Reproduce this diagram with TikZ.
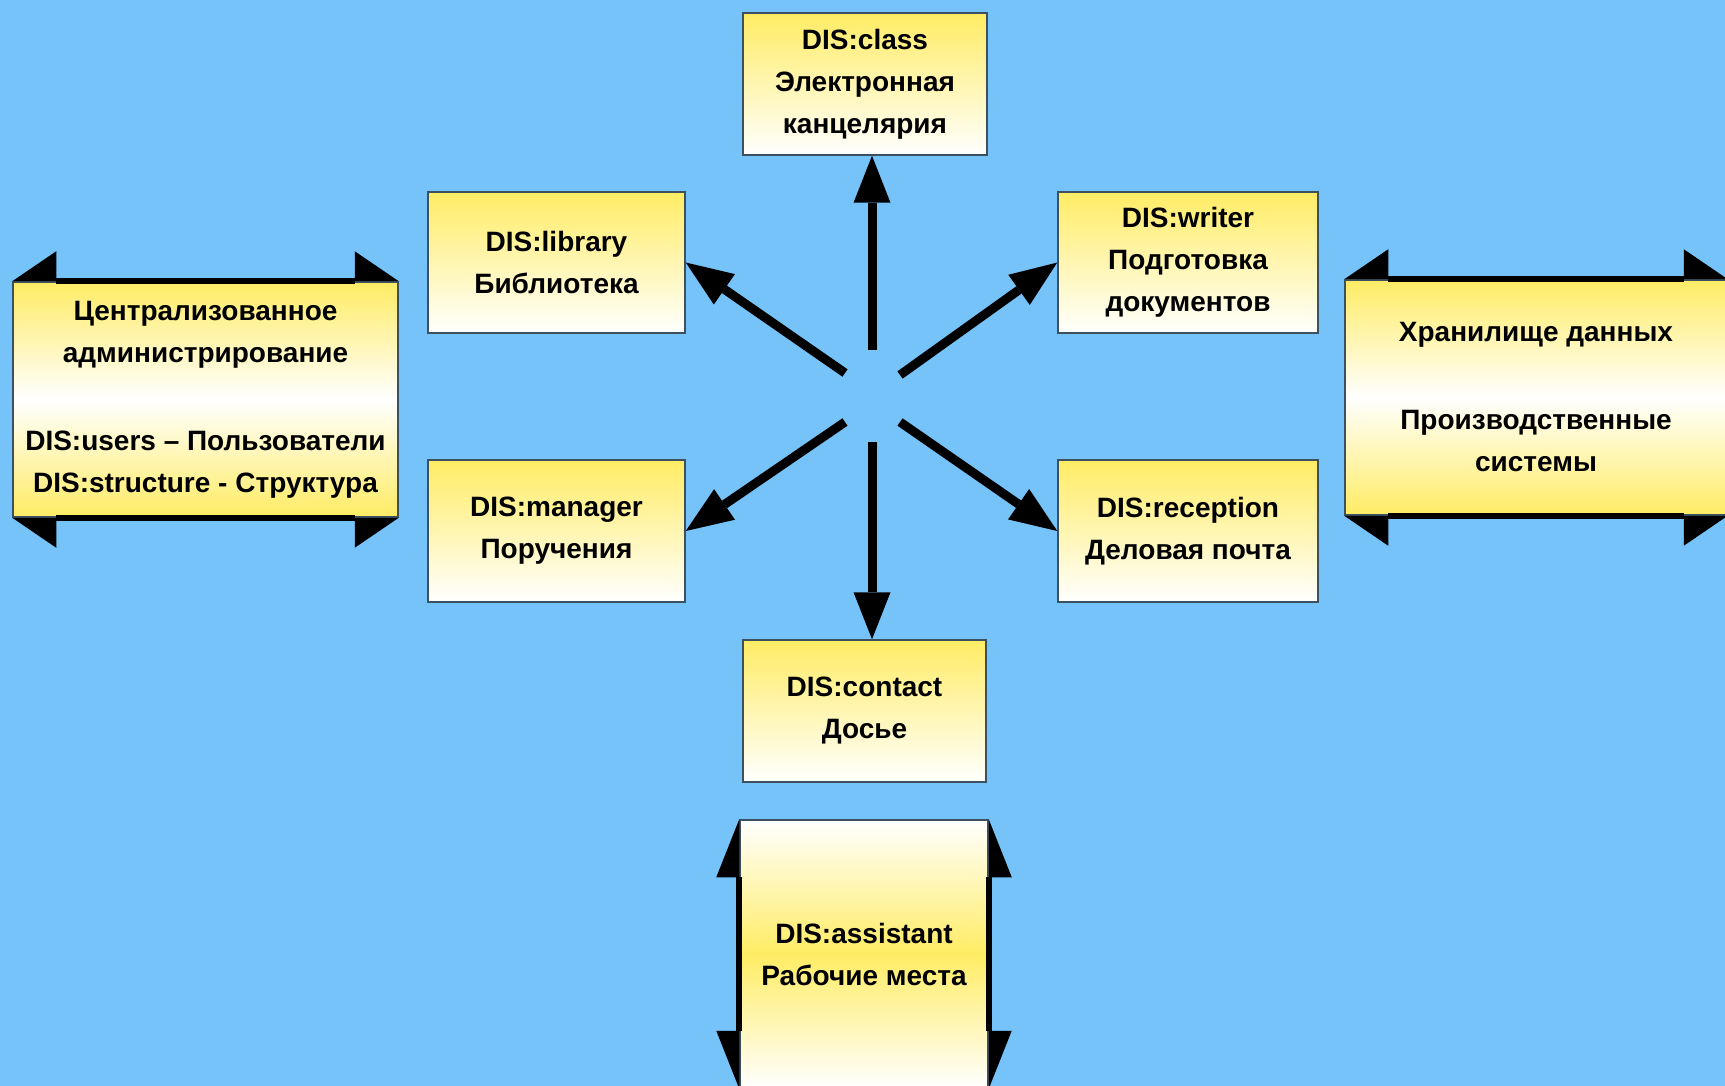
\documentclass[tikz,border=0pt]{standalone}
\usepackage{fontspec}
\setmainfont{Liberation Sans}
\usetikzlibrary{arrows.meta}
\definecolor{bg}{RGB}{118,195,250}
\definecolor{yel}{RGB}{255,236,100}
\definecolor{edgec}{RGB}{60,80,95}
\begin{document}
\begin{tikzpicture}[x=1pt,y=-1pt,
  txt/.style={font=\fontsize{28}{42}\selectfont\bfseries, align=center, text=black},
  smallbox/.style={txt, rectangle, draw=edgec, line width=1.5pt, inner sep=0pt, top color=yel, bottom color=white},
  bigbox/.style={txt, rectangle, draw=edgec, line width=1.5pt, inner sep=0pt, top color=yel, bottom color=yel, middle color=white},
  vbox/.style={txt, rectangle, draw=edgec, line width=1.5pt, inner sep=0pt, top color=white, bottom color=white, middle color=yel},
  spoke/.style={black, line width=9pt, -{Triangle[length=47pt,width=37pt,line width=0pt]}},
  edgearrow/.style={black, line width=6pt},
]
\fill[bg] (0,0) rectangle (1725,1086);
\useasboundingbox (0,0) rectangle (1725,1086);

% small boxes
\node[smallbox, minimum width=244pt, minimum height=142pt] (cls) at (865,84) {DIS:class\\Электронная\\канцелярия};
\node[smallbox, minimum width=257pt, minimum height=141pt] (lib) at (556.5,262.5) {DIS:library\\Библиотека};
\node[smallbox, minimum width=260pt, minimum height=141pt] (wri) at (1188,262.5) {DIS:writer\\Подготовка\\документов};
\node[smallbox, minimum width=257pt, minimum height=142pt] (man) at (556.5,531) {DIS:manager\\Поручения};
\node[smallbox, minimum width=260pt, minimum height=142pt] (rec) at (1188,531) {DIS:reception\\Деловая почта};
\node[smallbox, minimum width=243pt, minimum height=142pt] (con) at (864.5,711) {DIS:contact\\Досье};

% big boxes
\node[bigbox, minimum width=385pt, minimum height=235pt] (adm) at (205.5,399.5) {Централизованное\\администрирование\\[46pt]DIS:users – Пользователи\\DIS:structure - Структура};
\node[bigbox, minimum width=382pt, minimum height=235pt] (sto) at (1536,397.5) {Хранилище данных\\[46pt]Производственные\\системы};
\node[vbox, minimum width=248pt, minimum height=268pt] (asst) at (864,954) {DIS:assistant\\Рабочие места};

% harpoon edges
\draw[edgearrow, {Triangle[harpoon,swap,length=44pt,width=60pt,line width=0pt]}-{Triangle[harpoon,length=44pt,width=60pt,line width=0pt]}] (adm.north west) -- (adm.north east);
\draw[edgearrow, {Triangle[harpoon,length=44pt,width=60pt,line width=0pt]}-{Triangle[harpoon,swap,length=44pt,width=60pt,line width=0pt]}] (adm.south west) -- (adm.south east);
\draw[edgearrow, {Triangle[harpoon,swap,length=44pt,width=60pt,line width=0pt]}-{Triangle[harpoon,length=44pt,width=60pt,line width=0pt]}] (sto.north west) -- (sto.north east);
\draw[edgearrow, {Triangle[harpoon,length=44pt,width=60pt,line width=0pt]}-{Triangle[harpoon,swap,length=44pt,width=60pt,line width=0pt]}] (sto.south west) -- (sto.south east);
\draw[edgearrow, {Triangle[harpoon,swap,length=58pt,width=46pt,line width=0pt]}-{Triangle[harpoon,length=58pt,width=46pt,line width=0pt]}] (asst.south west) -- (asst.north west);
\draw[edgearrow, {Triangle[harpoon,length=58pt,width=46pt,line width=0pt]}-{Triangle[harpoon,swap,length=58pt,width=46pt,line width=0pt]}] (asst.south east) -- (asst.north east);

% spokes
\coordinate (c) at (872,397);
\coordinate (sU) at (872,350);
\coordinate (sD) at (872,442);
\coordinate (sUL) at (845,373);
\coordinate (sUR) at (900,375);
\coordinate (sDL) at (845,422);
\coordinate (sDR) at (900,422);
\draw[spoke] (sU) -- (c |- cls.south);
\draw[spoke] (sD) -- (c |- con.north);
\draw[spoke] (sUL) -- (lib.east);
\draw[spoke] (sUR) -- (wri.west);
\draw[spoke] (sDL) -- (man.east);
\draw[spoke] (sDR) -- (rec.west);
\end{tikzpicture}
\end{document}
